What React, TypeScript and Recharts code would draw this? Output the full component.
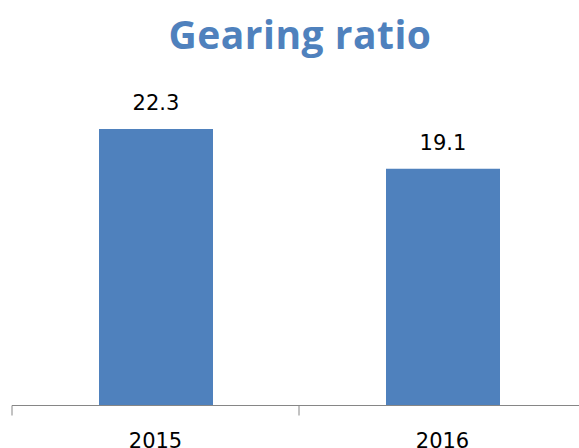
import React from "react";
import { BarChart, Bar, XAxis, YAxis, LabelList } from "recharts";

const categories = ["2015", "2016"];
const gearingValues = [22.3, 19.1];

const data = categories.map((year, i) => ({ year, value: gearingValues[i] }));

const AXIS_COLOR = "#868686";

const YearTick = (props: any) => {
  const { x, y, payload, index, visibleTicksCount, width } = props;
  const band = Number(width) / visibleTicksCount;
  const half = band / 2;
  const axisY = y - 28;
  return (
    <g>
      <line x1={x - half} y1={axisY} x2={x - half} y2={axisY + 10} stroke={AXIS_COLOR} />
      {index === visibleTicksCount - 1 && (
        <line x1={x + half} y1={axisY} x2={x + half} y2={axisY + 10} stroke={AXIS_COLOR} />
      )}
      <text
        x={x}
        y={y}
        dy="0.71em"
        textAnchor="middle"
        fill="#000"
        fontSize={21}
        fontFamily="'DejaVu Sans', sans-serif"
      >
        {payload.value}
      </text>
    </g>
  );
};

export default function App() {
  return (
    <div style={{ position: "absolute", left: 0, top: 0, width: 579, height: 448, overflow: "hidden", background: "#fff" }}>
      <div
        style={{
          position: "absolute",
          left: 0,
          top: 7,
          width: 600,
          textAlign: "center",
          fontFamily: "'Open Sans', sans-serif",
          fontWeight: 700,
          fontSize: 39,
          letterSpacing: 0.5,
          color: "#4F81BD",
          lineHeight: "54px",
        }}
      >
        Gearing ratio
      </div>
      <BarChart
        width={600}
        height={448}
        data={data}
        margin={{ top: 95.5, right: 14, left: 12, bottom: 0 }}
        barCategoryGap={0}
        style={{ overflow: "visible" }}
      >
        <YAxis hide domain={[0, 25]} />
        <XAxis
          dataKey="year"
          height={42.5}
          interval={0}
          axisLine={{ stroke: AXIS_COLOR }}
          tickLine={false}
          tickSize={0}
          tickMargin={28}
          tick={YearTick}
        />
        <Bar dataKey="value" fill="#4F81BD" barSize={114} isAnimationActive={false}>
          <LabelList
            dataKey="value"
            position="top"
            offset={19}
            fill="#000"
            fontSize={21}
            fontFamily="'DejaVu Sans', sans-serif"
          />
        </Bar>
      </BarChart>
    </div>
  );
}
